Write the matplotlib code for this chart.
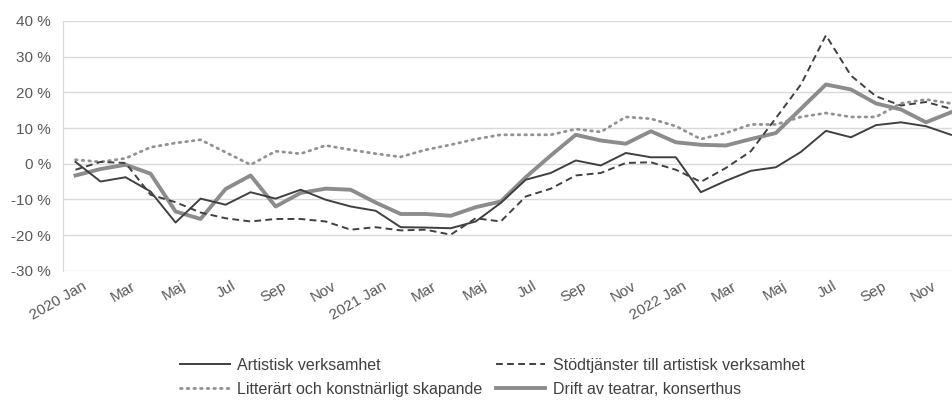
import matplotlib
matplotlib.use("Agg")
import matplotlib.pyplot as plt
import matplotlib.transforms as mtransforms

plt.rcParams['font.family'] = ['Liberation Sans', 'DejaVu Sans']

months = ["Jan", "Feb", "Mar", "Apr", "Maj", "Jun", "Jul", "Aug", "Sep", "Okt", "Nov", "Dec"]
years = [2020, 2021, 2022]
categories = [f"{y} {m}" for y in years for m in months]

artistisk = [0.5, -5.0, -3.8, -7.8, -16.5, -9.8, -11.5, -8.0, -9.8, -7.3, -10.1, -12.0,
             -13.2, -17.8, -17.9, -18.1, -16.2, -11.0, -4.5, -2.6, 0.9, -0.5, 3.0, 1.8,
             1.8, -8.0, -4.8, -2.0, -1.0, 3.3, 9.2, 7.4, 10.8, 11.6, 10.5, 8.1]
stodtjanster = [-1.7, 0.5, 0.2, -8.7, -10.8, -13.7, -15.3, -16.2, -15.5, -15.5, -16.2, -18.5,
                -17.8, -18.7, -18.5, -19.9, -15.3, -16.2, -9.2, -7.0, -3.3, -2.6, 0.2, 0.4,
                -1.7, -5.1, -1.2, 3.5, 12.8, 22.2, 36.0, 24.7, 18.9, 16.3, 17.3, 15.4]
litterart = [1.1, 0.5, 1.5, 4.6, 5.8, 6.7, 3.2, -0.3, 3.5, 2.8, 5.1, 3.9,
             2.8, 1.9, 3.9, 5.3, 6.9, 8.1, 8.1, 8.1, 9.7, 8.9, 13.1, 12.6,
             10.5, 6.9, 8.6, 11.0, 11.0, 13.1, 14.2, 13.1, 13.1, 16.9, 18.0, 16.9]
drift = [-3.3, -1.5, -0.3, -2.8, -13.4, -15.5, -7.1, -3.3, -12.0, -8.2, -7.0, -7.3,
         -10.9, -14.1, -14.1, -14.6, -12.2, -10.6, -3.8, 2.3, 8.1, 6.5, 5.6, 9.1,
         6.0, 5.3, 5.1, 6.9, 8.6, 15.4, 22.2, 20.8, 16.9, 15.2, 11.6, 14.4]

series_names = ["Artistisk verksamhet", "Stödtjänster till artistisk verksamhet",
                "Litterärt och konstnärligt skapande", "Drift av teatrar, konserthus"]

yticks = [-30, -20, -10, 0, 10, 20, 30, 40]

W, H = 953, 403
fig = plt.figure(figsize=(W / 100, H / 100), dpi=100)
left, right, top, bottom = 63, 953, 21, 270.7
ax = fig.add_axes([left / W, (H - bottom) / H, (right - left) / W, (bottom - top) / H])

x = list(range(len(categories)))
h1, = ax.plot(x, artistisk, color='#404040', lw=1.4, label=series_names[0], zorder=4)
h2, = ax.plot(x, stodtjanster, color='#404040', lw=1.4, ls=(0, (3.5, 2.2)), label=series_names[1], zorder=5)
h3, = ax.plot(x, litterart, color='#929292', lw=2.0, ls=(0, (0.6, 1.8)), dash_capstyle='round',
              label=series_names[2], zorder=3)
h4, = ax.plot(x, drift, color='#8c8c8c', lw=2.8, label=series_names[3], zorder=2)

ax.set_ylim(-30, 40)
ax.set_xlim(-0.5, -0.5 + (right - left - 0.5) / 25.0)
ax.set_yticks(yticks)
ax.set_yticklabels([f"{v} %" for v in yticks])
ax.yaxis.grid(True, color='#d9d9d9', lw=1)
ax.set_axisbelow(True)
for s in ['top', 'right', 'bottom']:
    ax.spines[s].set_visible(False)
ax.spines['left'].set_color('#d9d9d9')
ax.tick_params(axis='y', length=0, labelsize=11, labelcolor='#595959', pad=8.5)

tick_pos = x[::2]
tick_labels = [c if c.endswith("Jan") else c.split()[1] for c in categories[::2]]
ax.set_xticks(tick_pos)
ax.set_xticklabels(tick_labels, rotation=30, ha='right', rotation_mode='anchor')
ax.tick_params(axis='x', length=0, labelsize=11, labelcolor='#595959', pad=6)
offset = mtransforms.ScaledTranslation(6 / 100, 0, fig.dpi_scale_trans)
for lab in ax.get_xticklabels():
    lab.set_transform(lab.get_transform() + offset)

fig.legend([h1, h3, h2, h4], [series_names[0], series_names[2], series_names[1], series_names[3]],
           loc='upper left', bbox_to_anchor=(180 / W, 1 - 358 / H), ncol=2, frameon=False,
           fontsize=11.5, handlelength=3.1, handletextpad=0.45, columnspacing=0.87,
           labelspacing=0.55, borderaxespad=0, borderpad=0, labelcolor='#404040')

fig.savefig("out.png", dpi=100)
